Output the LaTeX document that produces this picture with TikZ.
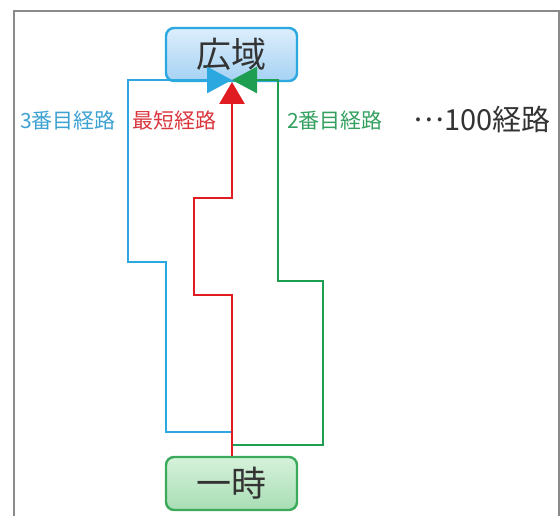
\documentclass[tikz,border=0pt]{standalone}
\usepackage{fontspec}
\setmainfont{Noto Sans CJK JP}
\usetikzlibrary{arrows.meta}
\definecolor{pblue}{HTML}{2AA8DF}
\definecolor{pred}{HTML}{E01B22}
\definecolor{pgreen}{HTML}{1E9E50}
\definecolor{lblue}{HTML}{3DA2D2}
\definecolor{lred}{HTML}{D9363D}
\definecolor{lgreen}{HTML}{34A060}
\definecolor{frame}{HTML}{8A8A8A}
\definecolor{txt}{HTML}{333333}
\definecolor{btop}{HTML}{DCEEFC}
\definecolor{bbot}{HTML}{A6D2F3}
\definecolor{gtop}{HTML}{D6F2DB}
\definecolor{gbot}{HTML}{A8DDB4}
\definecolor{gborder}{HTML}{3BAA5A}
\tikzset{
  box/.style={draw, line width=2.4pt, rounded corners=8pt, minimum width=131pt, minimum height=53pt, font=\fontsize{35}{38}\selectfont, text=txt, inner sep=0pt},
  route/.style={line width=2.8pt},
  lbl/.style={font=\fontsize{21}{24}\selectfont, inner sep=0pt},
}
\begin{document}
\begin{tikzpicture}[x=1pt,y=-1pt]
\useasboundingbox (0,0) rectangle (560,516);
\draw[frame, line width=2pt] (13.5,520) -- (13.5,11) -- (559,11) -- (559,520);
\node[box, draw=pblue, top color=btop, bottom color=bbot] (wide) at (231.5,54.5) {広域};
\node[box, draw=gborder, top color=gtop, bottom color=gbot] (temp) at (231.5,483.5) {一時};
\coordinate (tip) at (232,80);
\coordinate (rtip) at (232,82);
\coordinate (bstart) at (232,432);
\coordinate (gstart) at (232,445);
\draw[route, pblue, -{Triangle[length=25pt,width=26pt]}] (bstart) -- (166,432) -- (166,262) -- (128,262) -- (128,80) -- (tip);
\draw[route, pgreen, -{Triangle[length=25pt,width=26pt]}] (gstart) -- (323,445) -- (323,281) -- (278,281) -- (278,80) -- (tip);
\draw[route, pred, -{Triangle[length=22pt,width=25pt]}] (temp.north -| rtip) -- (232,295) -- (194,295) -- (194,198) -- (232,198) -- (rtip);
\node[lbl, text=lblue] (l3) at (68,121) {3番目経路};
\node[lbl, text=lred] (l1) at (174,121) {最短経路};
\node[lbl, text=lgreen] (l2) at (335,121) {2番目経路};
\node[lbl, text=txt, font=\fontsize{29}{31}\selectfont] (l100) at (482,119) {\raisebox{0.3em}{…}100経路};
\end{tikzpicture}
\end{document}
